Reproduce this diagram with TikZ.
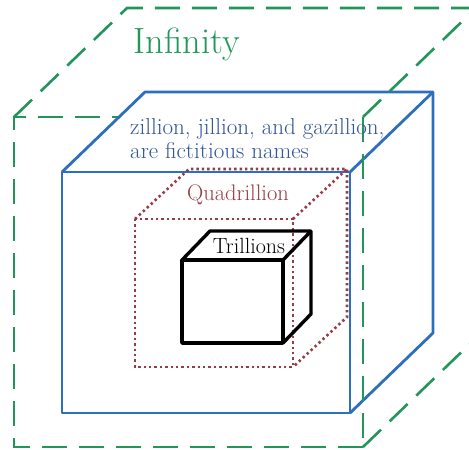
\documentclass[tikz,border=0pt]{standalone}
\usepackage{fontspec}
\definecolor{infgreen}{RGB}{34,150,90}
\definecolor{cubeblue}{RGB}{45,110,190}
\definecolor{textblue}{RGB}{50,85,150}
\definecolor{quadred}{RGB}{150,60,70}
\begin{document}
\begin{tikzpicture}[x=1pt, y=-1pt,
	infline/.style={draw=infgreen, line width=2.6pt, dash pattern=on 25pt off 12pt},
	blueline/.style={draw=cubeblue, line width=2.8pt, line join=round},
	quadline/.style={draw=quadred, line width=2.6pt, dash pattern=on 2.4pt off 3pt},
	trilline/.style={draw=black, line width=3.4pt, line join=round},
	cubelabel/.style={inner sep=0pt, font=\fontsize{22.5}{24}\selectfont}]
	\useasboundingbox (0,0) rectangle (469,450);
	\clip (0,0) rectangle (469,450);
	% Infinity, the part behind the blue box:
	\draw[infline] (363,447) -- (14,447) -- (14,117) -- (363,117);
	\draw[infline] (14,117) -- (127,8) -- (476,8);
	% zillion box:
	\fill[white] (62,172) -- (145,92) -- (433,92) -- (433,333) -- (350,413) -- (62,413) -- cycle;
	\draw[blueline] (62,172) rectangle (350,413);
	\draw[blueline] (62,172) -- (145,92) -- (433,92) -- (433,333) -- (350,413);
	\draw[blueline] (350,172) -- (433,92);
	% Infinity, the part in front:
	\draw[infline] (363,117) -- (363,447);
	\draw[infline] (363,117) -- (476,8);
	\draw[infline] (363,447) -- (476,338);
	\node[cubelabel, text=infgreen, font=\fontsize{36.5}{40}\selectfont, anchor=base] (infinity) at (187,53) {Infinity};
	\node[cubelabel, text=textblue, font=\fontsize{23}{24}\selectfont, align=left, anchor=north west] (fictitious) at (130,118) {zillion, jillion, and gazillion,\\are fictitious names};
	% Quadrillion box:
	\draw[quadline] (135,219) rectangle (293,367);
	\draw[quadline] (135,219) -- (189,169) -- (347,169) -- (347,317) -- (293,367);
	\draw[quadline] (293,219) -- (347,169);
	\node[cubelabel, text=quadred, anchor=base] (quadrillion) at (238,200) {Quadrillion};
	% Trillions box:
	\fill[white] (182,260) rectangle (283,343);
	\draw[trilline] (182,260) rectangle (283,343);
	\draw[trilline] (182,260) -- (210,231) -- (311,231) -- (311,314) -- (283,343);
	\draw[trilline] (283,260) -- (311,231);
	\node[cubelabel, font=\fontsize{22}{24}\selectfont, anchor=base] (trillions) at (249,253) {Trillions};
\end{tikzpicture}
\end{document}
